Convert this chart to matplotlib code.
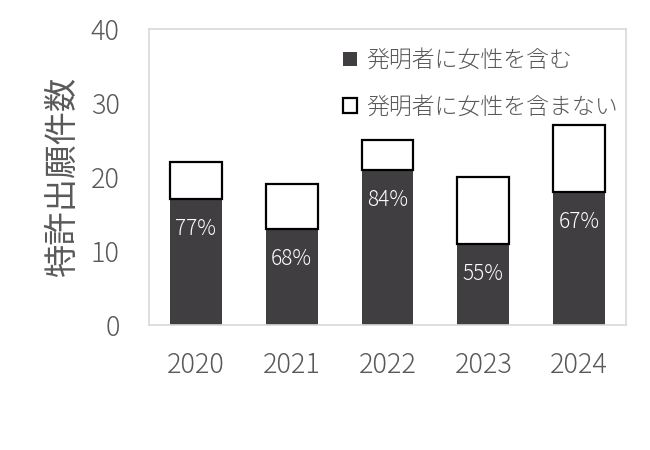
import matplotlib
matplotlib.use("Agg")
import matplotlib.pyplot as plt
from matplotlib.patches import Patch

plt.rcParams['font.family'] = ['Noto Sans CJK JP', 'DejaVu Sans']
plt.rcParams['font.weight'] = 'light'

years = ["2020", "2021", "2022", "2023", "2024"]
with_women = [17, 13, 21, 11, 18]
without_women = [5, 6, 4, 9, 9]
pct_labels = ["77%", "68%", "84%", "55%", "67%"]
ylabel = "特許出願件数"
legend_labels = ["発明者に女性を含む", "発明者に女性を含まない"]
yticks = [0, 10, 20, 30, 40]

dark = '#413e41'
gray = '#595959'

fig = plt.figure(figsize=(6.5, 4.5), dpi=100)
ax = fig.add_axes([149/650, 1 - 325/450, (626-149)/650, (325-29)/450])

x = list(range(len(years)))
w = 0.54
b1 = ax.bar(x, with_women, width=w, color=dark, linewidth=0, zorder=2)
b2 = ax.bar(x, without_women, width=w, bottom=with_women, color='white',
            edgecolor='black', linewidth=1.6, zorder=3)

for xi, v, lab in zip(x, with_women, pct_labels):
    ax.annotate(lab, (xi, v), xytext=(0, -30), textcoords='offset pixels',
                ha='center', va='center', color='white', fontsize=15, zorder=4)

ax.set_xlim(-0.49, 4.49)
ax.set_ylim(0, 40)
ax.set_yticks(yticks)
ax.set_xticks(x)
ax.set_xticklabels(years)
ax.tick_params(axis='both', length=0, labelsize=19.5, labelcolor=gray)
ax.tick_params(axis='y', pad=21)
ax.tick_params(axis='x', pad=19)
for s in ax.spines.values():
    s.set_color('#d9d9d9')
    s.set_linewidth(1.2)

ax.set_ylabel(ylabel, fontsize=24, color=gray, labelpad=8)

handles = [Patch(facecolor=dark, edgecolor=dark, linewidth=0),
           Patch(facecolor='white', edgecolor='black', linewidth=1.6)]
leg = ax.legend(handles, legend_labels, loc='upper left',
                bbox_to_anchor=(343/650, 1 - 48/450), bbox_transform=fig.transFigure,
                frameon=False, fontsize=16.5, handlelength=0.6, handleheight=0.6,
                handletextpad=0.4, labelspacing=0.95, borderpad=0, borderaxespad=0)
for t in leg.get_texts():
    t.set_color(gray)

fig.savefig("out.png", dpi=100)
